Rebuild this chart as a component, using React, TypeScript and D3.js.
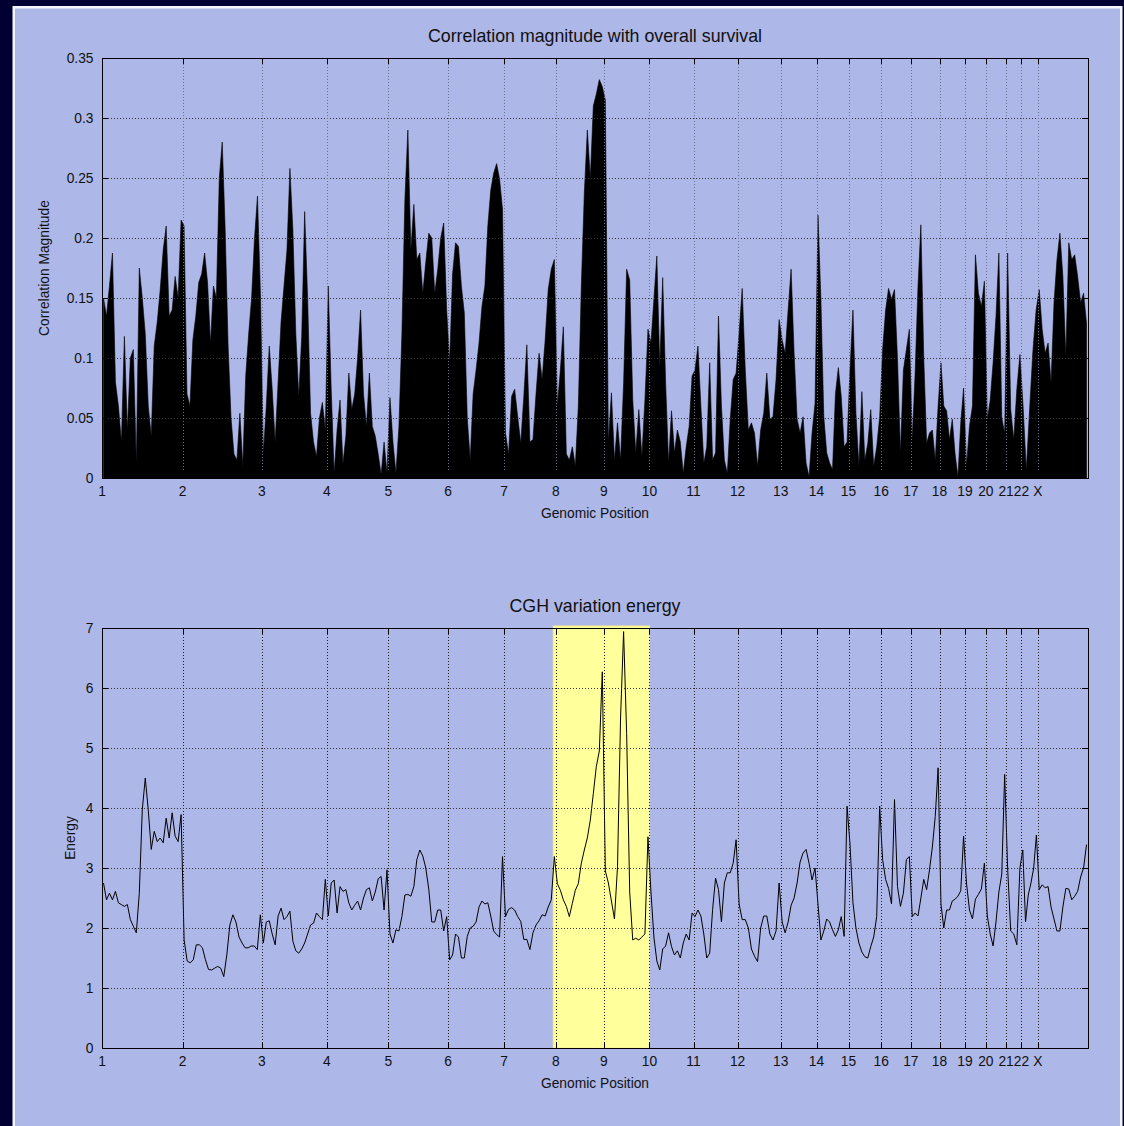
import * as d3 from 'd3';

// chromosome layout (Mb, cumulative start of each chromosome)
const chromNames = ['1', '2', '3', '4', '5', '6', '7', '8', '9', '10', '11', '12', '13', '14', '15', '16', '17', '18', '19', '20', '21', '22', 'X'];
const chromStarts = [0, 247, 490, 689, 878, 1061, 1232, 1391, 1538, 1678, 1813, 1948, 2080, 2190, 2288, 2388, 2479, 2567, 2645, 2709, 2771, 2818, 2868];
const genomeEnd = 3022;

// correlation magnitude, spread evenly over each chromosome
const corrByChrom = [
  [0.15, 0.135, 0.16, 0.1875, 0.08, 0.06, 0.03, 0.118, 0.04, 0.1, 0.107, 0.012, 0.175, 0.15, 0.12, 0.06, 0.035, 0.11, 0.13, 0.157, 0.19, 0.21, 0.135, 0.14, 0.168, 0.15, 0.215],
  [0.21, 0.07, 0.06, 0.115, 0.135, 0.163, 0.17, 0.1875, 0.163, 0.112, 0.16, 0.15, 0.25, 0.28, 0.207, 0.11, 0.05, 0.02, 0.015, 0.054, 0.01, 0.085, 0.12, 0.15, 0.2, 0.235, 0.154],
  [0.02, 0.06, 0.11, 0.074, 0.03, 0.08, 0.13, 0.16, 0.19, 0.258, 0.207, 0.12, 0.068, 0.118, 0.222, 0.15, 0.054, 0.03, 0.018, 0.05, 0.063, 0.04],
  [0.16, 0.074, 0.004, 0.04, 0.065, 0.012, 0.035, 0.0875, 0.057, 0.07, 0.1, 0.14, 0.07, 0.043, 0.0875, 0.043, 0.035, 0.02, 0.003, 0.03, 0.004],
  [0.067, 0.03, 0.004, 0.043, 0.12, 0.232, 0.29, 0.19, 0.228, 0.182, 0.1875, 0.154, 0.18, 0.204, 0.2, 0.154, 0.174, 0.2, 0.2125, 0.14],
  [0.096, 0.17, 0.196, 0.193, 0.16, 0.1375, 0.05, 0.015, 0.07, 0.09, 0.1125, 0.143, 0.16, 0.21, 0.24, 0.254, 0.262, 0.249, 0.224],
  [0.0375, 0.02, 0.068, 0.074, 0.051, 0.029, 0.068, 0.111, 0.03, 0.032, 0.07, 0.104, 0.082, 0.115, 0.157, 0.174, 0.182],
  [0.06, 0.09, 0.126, 0.02, 0.015, 0.026, 0.01, 0.06, 0.16, 0.2375, 0.29, 0.25, 0.31, 0.32, 0.332, 0.326],
  [0.315, 0.03, 0.071, 0.015, 0.046, 0.015, 0.079, 0.174, 0.165, 0.065, 0.021, 0.057, 0.018, 0.065, 0.124],
  [0.1125, 0.149, 0.185, 0.093, 0.167, 0.079, 0.0125, 0.056, 0.021, 0.04, 0.03, 0.004, 0.026, 0.043, 0.085],
  [0.09, 0.11, 0.06, 0.0125, 0.026, 0.096, 0.015, 0.021, 0.135, 0.06, 0.015, 0.004, 0.049, 0.082, 0.0875],
  [0.121, 0.158, 0.09, 0.04, 0.046, 0.0375, 0.01, 0.04, 0.054, 0.0875, 0.049, 0.051, 0.082, 0.132],
  [0.115, 0.104, 0.14, 0.174, 0.104, 0.049, 0.0375, 0.051, 0.0125, 0.001, 0.0375, 0.0625],
  [0.219, 0.149, 0.051, 0.021, 0.0125, 0.007, 0.07, 0.092, 0.068, 0.026, 0.03],
  [0.09, 0.14, 0.054, 0.01, 0.072, 0.015, 0.029, 0.057, 0.01, 0.026, 0.051],
  [0.107, 0.14, 0.158, 0.149, 0.157, 0.1, 0.021, 0.09, 0.107, 0.124],
  [0.032, 0.0875, 0.16, 0.211, 0.1, 0.029, 0.0375, 0.04, 0.015, 0.06],
  [0.096, 0.06, 0.056, 0.032, 0.049, 0.02, 0.001, 0.046, 0.075],
  [0.01, 0.043, 0.06, 0.186, 0.154, 0.143, 0.164],
  [0.049, 0.065, 0.096, 0.135, 0.1875, 0.05, 0.0375],
  [0.1875, 0.057, 0.032, 0.074, 0.103],
  [0.06, 0.007, 0.057, 0.1055, 0.14],
  [0.157, 0.124, 0.104, 0.1125, 0.079, 0.146, 0.182, 0.204, 0.168, 0.101, 0.196, 0.182, 0.186, 0.168, 0.146, 0.154, 0.129],
];

// CGH variation energy, spread evenly over each chromosome
const energyByChrom = [
  [2.75, 2.47, 2.58, 2.47, 2.61, 2.42, 2.39, 2.36, 2.39, 2.14, 2.03, 1.92, 2.58, 3.97, 4.5, 3.97, 3.31, 3.61, 3.44, 3.5, 3.42, 3.83, 3.5, 3.92, 3.53, 3.44, 3.89],
  [1.8, 1.45, 1.42, 1.47, 1.72, 1.72, 1.67, 1.47, 1.31, 1.3, 1.33, 1.36, 1.33, 1.19, 1.55, 2.05, 2.22, 2.1, 1.85, 1.75, 1.67, 1.67, 1.7, 1.7, 1.64, 2.22],
  [1.75, 2.1, 2.12, 1.9, 1.72, 2.2, 2.33, 2.14, 2.19, 2.28, 1.78, 1.62, 1.58, 1.65, 1.75, 1.9, 2.05, 2.08, 2.25, 2.19, 2.14, 2.81],
  [2.2, 2.75, 2.8, 2.25, 2.69, 2.61, 2.64, 2.42, 2.3, 2.38, 2.45, 2.3, 2.5, 2.64, 2.67, 2.45, 2.6, 2.82, 2.86, 2.3, 2.97],
  [1.9, 1.75, 1.97, 1.95, 2.19, 2.55, 2.56, 2.53, 2.69, 3.14, 3.3, 3.2, 3.0, 2.65, 2.1, 2.1, 2.3, 2.3, 1.95, 2.19],
  [1.47, 1.55, 1.9, 1.85, 1.5, 1.5, 1.86, 2.0, 2.03, 2.1, 2.35, 2.45, 2.4, 2.42, 2.2, 1.95, 1.89, 1.85, 3.19],
  [2.19, 2.31, 2.34, 2.3, 2.19, 2.11, 1.81, 1.81, 1.64, 1.92, 2.05, 2.12, 2.22, 2.2, 2.35, 2.47, 3.19],
  [2.74, 2.63, 2.47, 2.36, 2.19, 2.41, 2.63, 2.74, 3.08, 3.3, 3.5, 3.8, 4.24, 4.69, 4.95, 6.27],
  [2.95, 2.75, 2.45, 2.15, 3.02, 5.5, 6.94, 5.24, 2.6, 1.8, 1.83, 1.8, 1.85, 1.9, 3.52],
  [2.6, 1.85, 1.45, 1.3, 1.65, 1.7, 1.92, 1.69, 1.55, 1.62, 1.5, 1.75, 1.9, 1.8, 2.25],
  [2.19, 2.3, 2.2, 1.9, 1.5, 1.58, 2.31, 2.83, 2.64, 2.1, 2.75, 2.92, 2.92, 3.08, 3.47],
  [2.4, 2.14, 2.14, 2.0, 1.65, 1.53, 1.44, 2.0, 2.2, 2.2, 1.9, 1.8, 1.95, 2.75],
  [2.1, 1.92, 2.1, 2.38, 2.5, 2.75, 3.1, 3.25, 3.31, 3.08, 2.8, 3.0],
  [2.4, 1.8, 1.95, 2.15, 2.1, 1.97, 1.86, 1.97, 2.19, 1.86, 4.03],
  [3.4, 2.42, 2.0, 1.75, 1.6, 1.52, 1.5, 1.69, 1.85, 2.19, 4.03],
  [3.14, 2.81, 2.66, 2.4, 4.14, 2.69, 2.36, 2.58, 3.14, 3.19],
  [2.19, 2.25, 2.2, 2.5, 2.81, 2.64, 2.97, 3.35, 3.86, 4.67],
  [2.4, 2.0, 2.3, 2.3, 2.45, 2.48, 2.53, 2.62, 3.53],
  [2.75, 2.3, 2.15, 2.48, 2.56, 2.65, 3.08],
  [2.2, 1.9, 1.7, 2.1, 2.6, 2.9, 4.56],
  [3.0, 1.95, 1.9, 1.72, 3.0],
  [3.3, 2.1, 2.55, 2.75, 3.0, 3.55],
  [2.64, 2.72, 2.67, 2.69, 2.35, 2.15, 1.95, 1.95, 2.35, 2.66, 2.65, 2.47, 2.53, 2.61, 2.85, 3.0, 3.39],
];

const corrTicks = [0, 0.05, 0.1, 0.15, 0.2, 0.25, 0.3, 0.35];
const energyTicks = [0, 1, 2, 3, 4, 5, 6, 7];
const highlightRange = [1383, 1678];

const W = 1124;
const H = 1126;
const left = 102;
const right = 1088;
const font = 'Liberation Sans, Arial, sans-serif';
const bg = '#adb7e8';

type Pt = { pos: number; v: number };

const spread = (byChrom: number[][]): Pt[] =>
  byChrom.flatMap((vals, c) => {
    const start = chromStarts[c];
    const end = c + 1 < chromStarts.length ? chromStarts[c + 1] : genomeEnd;
    const step = (end - start) / vals.length;
    return vals.map((v, k) => ({ pos: start + (k + 0.5) * step, v }));
  });

const x = d3.scaleLinear().domain([0, genomeEnd]).range([left, right]);

const fmt = (t: number) => (t === 0 ? '0' : String(+t.toFixed(2)));

const Panel = ({
  top,
  bottom,
  ticks,
  yMax,
  title,
  yLabel,
  yLabelX,
  children,
  gridColorV,
  highlight,
}: {
  top: number;
  bottom: number;
  ticks: number[];
  yMax: number;
  title: string;
  yLabel: string;
  yLabelX: number;
  children: (y: d3.ScaleLinear<number, number>) => JSX.Element;
  gridColorV: string;
  highlight?: number[];
}) => {
  const y = d3.scaleLinear().domain([0, yMax]).range([bottom, top]);
  const tickLen = 6;
  return (
    <g>
      {highlight && (
        <rect
          x={x(highlight[0])}
          y={top - 2}
          width={x(highlight[1]) - x(highlight[0])}
          height={bottom - top + 2}
          fill="#ffff9c"
          stroke="#f4f088"
        />
      )}
      {children(y)}
      {/* horizontal grid */}
      {ticks.slice(1, -1).map(t => (
        <line key={'h' + t} x1={left} x2={right} y1={y(t) + 0.5} y2={y(t) + 0.5} stroke="#333" strokeDasharray="1,2" />
      ))}
      {/* vertical grid at chromosome starts */}
      {chromStarts.slice(1).map(s => (
        <line key={'v' + s} x1={Math.round(x(s)) + 0.5} x2={Math.round(x(s)) + 0.5} y1={top} y2={bottom} stroke={gridColorV} strokeDasharray="1,2" />
      ))}
      {/* ticks */}
      {ticks.map(t => (
        <g key={'t' + t}>
          <line x1={left} x2={left + tickLen} y1={y(t) + 0.5} y2={y(t) + 0.5} stroke="#000" />
          <line x1={right - tickLen} x2={right} y1={y(t) + 0.5} y2={y(t) + 0.5} stroke="#000" />
          <text x={93.5} y={y(t)} dy="0.36em" textAnchor="end" fontSize={13.8} fontFamily={font} fill="#111">
            {fmt(t)}
          </text>
        </g>
      ))}
      {chromStarts.map((s, i) => (
        <g key={'c' + i}>
          <line x1={Math.round(x(s)) + 0.5} x2={Math.round(x(s)) + 0.5} y1={top} y2={top + tickLen} stroke="#000" />
          <line x1={Math.round(x(s)) + 0.5} x2={Math.round(x(s)) + 0.5} y1={bottom - tickLen} y2={bottom} stroke="#000" />
          <text x={x(s)} y={bottom + 18} textAnchor="middle" fontSize={13.8} fontFamily={font} fill="#111">
            {chromNames[i]}
          </text>
        </g>
      ))}
      <rect x={left + 0.5} y={top + 0.5} width={right - left} height={bottom - top} fill="none" stroke="#000" />
      <text x={595} y={top - 16} textAnchor="middle" fontSize={17.8} fontFamily={font} fill="#111">
        {title}
      </text>
      <text x={595} y={bottom + 40} textAnchor="middle" fontSize={13.8} fontFamily={font} fill="#111">
        Genomic Position
      </text>
      <text
        transform={`translate(${yLabelX},${(top + bottom) / 2}) rotate(-90)`}
        textAnchor="middle"
        dy="0.36em"
        fontSize={13.8}
        fontFamily={font}
        fill="#111"
      >
        {yLabel}
      </text>
    </g>
  );
};

export default function App() {
  const corr = spread(corrByChrom);
  const energy = spread(energyByChrom);

  return (
    <svg width={W} height={H} style={{ position: 'absolute', left: 0, top: 0 }}>
      <rect width={W} height={H} fill="#000033" />
      <rect x={12.5} y={6} width={1110} height={H + 20} fill="#f4f5fb" />
      <rect x={15} y={8.5} width={1105} height={H + 20} fill={bg} />

      <Panel
        top={58}
        bottom={478}
        ticks={corrTicks}
        yMax={0.35}
        title="Correlation magnitude with overall survival"
        yLabel="Correlation Magnitude"
        yLabelX={44.5}
        gridColorV="#6b7190"
      >
        {y => {
          const area = d3
            .area<Pt>()
            .x(d => x(d.pos))
            .y0(y(0))
            .y1(d => y(d.v));
          return <path d={area(corr) ?? ''} fill="#000" stroke="#000" strokeWidth={0.6} />;
        }}
      </Panel>

      <Panel
        top={628}
        bottom={1048}
        ticks={energyTicks}
        yMax={7}
        title="CGH variation energy"
        yLabel="Energy"
        yLabelX={70}
        gridColorV="#222"
        highlight={highlightRange}
      >
        {y => {
          const line = d3
            .line<Pt>()
            .x(d => x(d.pos))
            .y(d => y(d.v));
          return <path d={line(energy) ?? ''} fill="none" stroke="#000" strokeWidth={1} />;
        }}
      </Panel>
    </svg>
  );
}
